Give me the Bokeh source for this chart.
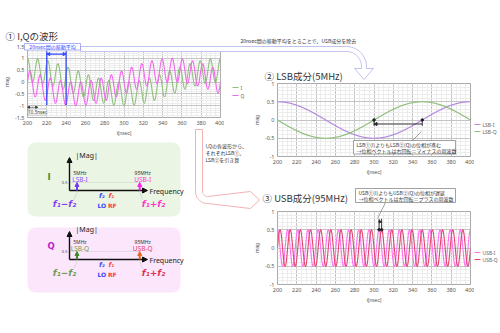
import numpy as np
from bokeh.plotting import figure
from bokeh.layouts import column
from bokeh.models import (GridBox, Range1d, BoxAnnotation, Arrow, NormalHead,
                          Label, SingleIntervalTicker, CustomJSTickFormatter)
from bokeh.core.properties import value
from bokeh.embed import file_html
from bokeh.resources import INLINE

# ---------------- data ----------------
t_range = [200, 400]            # time axis [nsec]
lsb_freq_mhz = 5                # LSB component (f1 - f2)
usb_freq_mhz = 95               # USB component (f1 + f2)
lo_freq_mhz = 45                # f2 (LO)
rf_freq_mhz = 50                # f1 (RF)
component_amp = 0.5             # amplitude of each component
avg_window = [220, 240]         # 20 nsec moving-average window
usb_period_label = "10.5nsec"
chart1_series = ["I", "Q"]
chart2_series = ["LSB-I", "LSB-Q"]
chart3_series = ["USB-I", "USB-Q"]
chart1_ylim = [-1.5, 1.5]
chart23_ylim = [-1, 1]
x_tick_step = 20
y_tick_step = 0.5

# waveform samples from the frequencies / amplitude
t = np.linspace(t_range[0], t_range[1], 2001)
ph_l = 2 * np.pi * lsb_freq_mhz * t / 1000.0
ph_u = 2 * np.pi * usb_freq_mhz * t / 1000.0
lsb_i = component_amp * np.cos(ph_l)
lsb_q = -component_amp * np.sin(ph_l)
usb_i = component_amp * np.cos(ph_u)
usb_q = component_amp * np.sin(ph_u)
sig_i = lsb_i + usb_i
sig_q = lsb_q + usb_q

JP = "Noto Sans CJK JP"
NUM = "Noto Sans"
BOLD = "DejaVu Sans"

C_I1, C_Q1 = "#8fc07c", "#f466f0"
C_LI, C_LQ = "#b38ae0", "#8fc07c"
C_UI, C_UQ = "#ff70f5", "#e0466e"


def chart(frame_left, frame_top, fw, fh, ylim, lb, tb=4, bb=20, rb=4):
    p = figure(width=lb + fw + rb, height=tb + fh + bb,
               x_range=Range1d(*t_range), y_range=Range1d(*ylim),
               output_backend="svg", toolbar_location=None,
               min_border_left=lb, min_border_right=rb, min_border_top=tb,
               min_border_bottom=bb)
    p.border_fill_color = None
    p.background_fill_color = "white"
    p.outline_line_color = "#a8a8a8"
    p.xaxis.ticker = SingleIntervalTicker(interval=x_tick_step, num_minor_ticks=4)
    p.yaxis.ticker = SingleIntervalTicker(interval=y_tick_step, num_minor_ticks=5)
    p.axis.formatter = CustomJSTickFormatter(code="return tick.toString();")
    p.grid.grid_line_color = "#c4c4c4"
    p.grid.minor_grid_line_color = "#ececec"
    p.axis.axis_line_color = None
    p.axis.major_tick_line_color = None
    p.axis.minor_tick_line_color = None
    p.axis.major_tick_out = 0
    p.axis.major_tick_in = 0
    p.axis.minor_tick_out = 0
    p.axis.minor_tick_in = 0
    p.axis.major_label_text_font_size = "5.5px"
    p.axis.major_label_text_color = "#555555"
    p.axis.major_label_text_font = NUM
    p.axis.major_label_standoff = 3
    p.axis.axis_label_text_font_size = "5px"
    p.axis.axis_label_text_font_style = "normal"
    p.axis.axis_label_text_color = "#555555"
    p.axis.axis_label_standoff = 2
    p.xaxis.axis_label = "t[nsec]"
    p.yaxis.axis_label = "mag"
    wrap = column(p, margin=(frame_top - tb, 0, 0, frame_left - lb))
    return p, wrap


# ---- chart 1 : I, Q ----
c1, w1 = chart(24, 46, 196, 72, chart1_ylim, lb=24)
c1.line(t, sig_i, line_color=C_I1, line_width=1.1)
c1.line(t, sig_q, line_color=C_Q1, line_width=1.1)
blue = "#3348ff"
c1.segment(x0=avg_window, y0=[1.3, 1.3], x1=avg_window, y1=[-0.97, -0.97],
           line_color=blue, line_width=1.3)
c1.add_layout(Arrow(x_start=avg_window[0], y_start=1.18, x_end=avg_window[1], y_end=1.18,
                    line_color=blue, line_width=1.3,
                    start=NormalHead(size=3, fill_color=blue, line_color=blue),
                    end=NormalHead(size=3, fill_color=blue, line_color=blue)))
usb_period = 1000.0 / usb_freq_mhz
c1.add_layout(Arrow(x_start=t_range[0], y_start=-1.07, x_end=t_range[0] + usb_period, y_end=-1.07,
                    line_color="#333", line_width=0.6,
                    start=NormalHead(size=2, fill_color="#333", line_color="#333"),
                    end=NormalHead(size=2, fill_color="#333", line_color="#333")))
c1.add_layout(Label(x=t_range[0] + 0.8, y=-1.27, text=usb_period_label, text_font_size="4.5px",
                    text_color="#333", text_baseline="middle", text_font=NUM,
                    background_fill_color="white", border_line_color="#999",
                    border_line_width=0.5))

# ---- chart 2 : LSB ----
c2, w2 = chart(272, 83, 198, 74, chart23_ylim, lb=22)
c2.line(t, lsb_i, line_color=C_LI, line_width=1.2)
c2.line(t, lsb_q, line_color=C_LQ, line_width=1.2)
t_q0 = 300.0   # LSB-Q rising zero crossing
t_i0 = 350.0   # LSB-I rising zero crossing
c2.segment(x0=[t_q0, t_i0], y0=[0, 0], x1=[t_q0, t_i0], y1=[-0.16, -0.16],
           line_color="#222", line_width=0.9)
c2.add_layout(Arrow(x_start=t_i0, y_start=-0.11, x_end=t_q0, y_end=-0.11,
                    line_color="#222", line_width=0.9,
                    end=NormalHead(size=3, fill_color="#222", line_color="#222")))
c2.scatter([t_q0, t_i0], [0, 0], size=2.5, color="#222")

# ---- chart 3 : USB ----
c3, w3 = chart(272, 211, 198, 74, chart23_ylim, lb=22)
c3.line(t, usb_i, line_color=C_UI, line_width=1.1)
c3.line(t, usb_q, line_color=C_UQ, line_width=1.1)
t_ip = t_range[0] + 10 * usb_period
t_qp = t_ip + usb_period / 4
c3.segment(x0=[t_ip, t_qp], y0=[0.5, 0.5], x1=[t_ip, t_qp], y1=[0.8, 0.8],
           line_color="#222", line_width=0.9)
c3.add_layout(Arrow(x_start=t_ip, y_start=0.72, x_end=t_qp, y_end=0.72,
                    line_color="#222", line_width=0.9,
                    end=NormalHead(size=2.5, fill_color="#222", line_color="#222")))
c3.scatter([t_ip, t_qp], [0.5, 0.5], size=2.5, color="#222")

# ---------------- overlay (titles, notes, arrows, spectrum diagrams) ----------------
ov = figure(width=500, height=333, x_range=Range1d(0, 500), y_range=Range1d(333, 0),
            x_axis_type=None, y_axis_type=None, output_backend="svg",
            toolbar_location=None, min_border=0)
ov.outline_line_color = None
ov.background_fill_color = None
ov.border_fill_color = None
ov.grid.visible = False


def T(x, y, s, size, color="#333333", align="left", style="normal", font=JP):
    ov.text(x=[x], y=[y], text=[s], text_font_size=f"{size}px", text_color=color,
            text_align=align, text_baseline="middle", text_font_style=style,
            text_font=value(font))


def arc(cx, cy, r, a0, a1, n=14):
    a = np.radians(np.linspace(a0, a1, n))
    return list(cx + r * np.cos(a)), list(cy + r * np.sin(a))


# titles
T(5, 35, "① I,Qの波形", 9.5)
T(264, 75, "② LSB成分(5MHz)", 9.5)
T(262, 197, "③ USB成分(95MHz)", 9.5)

# lavender arrow (moving average)
ax1, ay1 = arc(346, 66, 20, -90, 0)
ax2, ay2 = arc(346, 66, 15, 0, -90)
xs = [80] + ax1 + [366, 373, 363.5, 354, 361] + ax2 + [80]
ys = [46] + ay1 + [68, 68, 79, 68, 68] + ay2 + [51]
ov.patch(xs, ys, fill_color="white", line_color="#c2c2f0", line_width=1)
T(240, 40, "20nsec間の移動平均をとることで、USB成分を除去", 5)
ov.quad(left=[24], right=[80], top=[43], bottom=[49.5], fill_color="white",
        line_color="#8c8cf0", line_width=0.7)
T(52, 46.3, "20nsec間の移動平均", 5, color=blue, align="center")

# pink arrow (subtraction)
px1, py1 = arc(207, 191, 12, 180, 90)
px2, py2 = arc(207, 191, 5, 90, 180)
xs = [195] + px1 + [250, 250, 259, 250, 250] + px2 + [202]
ys = [129] + py1 + [208, 208, 199.5, 191, 191] + py2 + [129]
ov.patch(xs, ys, fill_color="white", line_color="#f2b3b3", line_width=1)
T(205, 145, "I,Qの各波形から、", 5)
T(205, 152, "それぞれLSB①、", 5)
T(205, 159, "LSB②を引き算", 5)

# call-out boxes
ov.quad(left=[353], right=[455], top=[140], bottom=[153.5], fill_color="white",
        line_color="#8a8a8a", line_width=0.8)
ov.segment(x0=[412], y0=[140], x1=[421], y1=[131], line_color="#8a8a8a", line_width=0.8)
T(356, 143.8, "LSB①(I)よりもLSB②(Q)の位相が進む", 5)
T(356, 149.8, "→位相ベクトルは右回転＝マイナスの周波数", 5)
ov.quad(left=[355], right=[455], top=[188], bottom=[202], fill_color="white",
        line_color="#8a8a8a", line_width=0.8)
ov.segment(x0=[385], y0=[202], x1=[377], y1=[218], line_color="#8a8a8a", line_width=0.8)
T(358, 191.8, "USB①(I)よりもUSB②(Q)の位相が遅延", 5)
T(358, 197.8, "→位相ベクトルは左回転＝プラスの周波数", 5)


# legends
def legend(x, y0, names, colors, dy=7):
    for k, (n, c) in enumerate(zip(names, colors)):
        yy = y0 + k * dy
        ov.segment(x0=[x], y0=[yy], x1=[x + 6], y1=[yy], line_color=c, line_width=1.2)
        T(x + 8, yy, n, 5, color="#666666", font=NUM)


legend(232, 87, chart1_series, [C_I1, C_Q1], dy=8)
legend(474, 124, chart2_series, [C_LI, C_LQ])
legend(474, 252, chart3_series, [C_UI, C_UQ])


# spectrum diagrams
def fx(f):
    return 73 + 0.697 * f


def spectrum(yb, top, bottom, fill, name, name_c, lsb_name, lsb_c, lsb_arrow_c,
             usb_name, usb_c, usb_arrow_c, diff_c, sum_c, axis_top):
    ov.add_layout(BoxAnnotation(left=27, right=180, top=top, bottom=bottom,
                                fill_color=fill, fill_alpha=1, line_color=None,
                                border_radius=8, level="underlay"))
    T(47, yb - 14, name, 8.5, color=name_c, style="bold", font=BOLD)
    ov.add_layout(Arrow(x_start=69, y_start=yb, x_end=69, y_end=axis_top, line_width=1.4,
                        line_color="#111", end=NormalHead(size=5, fill_color="#111",
                                                          line_color="#111")))
    ov.add_layout(Arrow(x_start=69, y_start=yb, x_end=147, y_end=yb, line_width=1.4,
                        line_color="#111", end=NormalHead(size=5, fill_color="#111",
                                                          line_color="#111")))
    T(75, axis_top - 2, "|Mag|", 7, color="#222", font=NUM)
    T(149, yb + 1, "Frequency", 7, color="#222", font=NUM)
    amp_y = yb - 16 * component_amp
    T(67, amp_y, "0.5", 4, color="#444", align="right", font=NUM)
    ov.segment(x0=[69], y0=[amp_y], x1=[fx(usb_freq_mhz)], y1=[amp_y],
               line_color="#cccccc", line_width=0.7, line_dash="2 1")
    for f, c, nm, nc in [(lsb_freq_mhz, lsb_arrow_c, lsb_name, lsb_c),
                         (usb_freq_mhz, usb_arrow_c, usb_name, usb_c)]:
        x = fx(f)
        ov.add_layout(Arrow(x_start=x, y_start=yb, x_end=x, y_end=yb - 16 * component_amp,
                            line_width=2, line_color=c,
                            end=NormalHead(size=4, fill_color=c, line_color=c)))
        T(x + 3, yb - 11, nm, 6.5, color=nc, align="center", font=NUM)
        T(x + 3, yb - 18, f"{f}MHz", 5, color="#333", align="center", font=NUM)
    ov.segment(x0=[fx(lsb_freq_mhz), fx(usb_freq_mhz)], y0=[yb + 2, yb + 2],
               x1=[fx(lsb_freq_mhz) - 3, fx(usb_freq_mhz) + 3], y1=[yb + 9, yb + 9],
               line_color="#cfcfcf", line_width=0.8)
    T(fx(lo_freq_mhz) - 3, yb + 5.5, "f₂", 6.5, color="#3344ff", align="center",
      style="bold italic", font=BOLD)
    T(fx(rf_freq_mhz) + 3, yb + 5.5, "f₁", 6.5, color="#ff4040", align="center",
      style="bold italic", font=BOLD)
    T(fx(lo_freq_mhz) - 3, yb + 15, "LO", 6, color="#3344ff", align="center",
      style="bold", font=BOLD)
    T(fx(rf_freq_mhz) + 4, yb + 15, "RF", 6, color="#ff4040", align="center",
      style="bold", font=BOLD)
    T(64, yb + 13, "f₁−f₂", 9, color=diff_c, align="center", style="bold italic", font=BOLD)
    T(153, yb + 13, "f₁+f₂", 9, color=sum_c, align="center", style="bold italic", font=BOLD)


spectrum(190, 142, 216, "#eaf5e4", "I", "#3c8c3c", "LSB-I", "#8a4dff", "#7a3cf0",
         "USB-I", "#ff33dd", "#ff22ee", "#8a3cf5", "#ff33cc", 157)
spectrum(259, 227, 292, "#fce6fb", "Q", "#bb22cc", "LSB-Q", "#6aa050", "#3d8a2a",
         "USB-Q", "#e8385a", "#e06a20", "#6a9a50", "#e03050", 231)

wov = column(ov, margin=(0, 0, 0, 0))
layout = GridBox(children=[(w1, 0, 0), (w2, 0, 0), (w3, 0, 0), (wov, 0, 0)])

open("out.html", "w").write(file_html(layout, INLINE))
